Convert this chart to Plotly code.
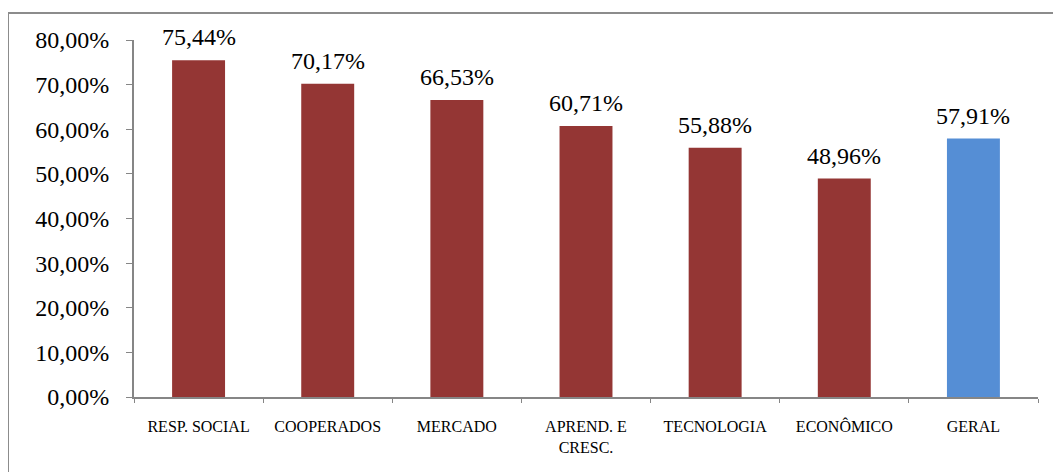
import plotly.graph_objects as go

categories = ["RESP. SOCIAL", "COOPERADOS", "MERCADO", "APREND. E<br>CRESC.",
              "TECNOLOGIA", "ECONÔMICO", "GERAL"]
values = [0.7544, 0.7017, 0.6653, 0.6071, 0.5588, 0.4896, 0.5791]
bar_colors = ["#943634"] * 6 + ["#558ED5"]

SERIF = "Liberation Serif, Times New Roman, serif"
W, H = 1061, 472
# the page puts the figure 8px in from the window corner
L, R, T, B = 126, 31, 32, 83
pw, ph = W - L - R, H - T - B

fig = go.Figure(
    go.Bar(
        x=categories,
        y=values,
        marker=dict(color=bar_colors, line=dict(width=0)),
        hoverinfo="skip",
    )
)

for cat, val in zip(categories, values):
    fig.add_annotation(
        x=cat, y=val, xref="x", yref="y",
        text=f"{val * 100:.2f}%".replace(".", ","),
        showarrow=False, yanchor="bottom", yshift=8,
        font=dict(family=SERIF, size=24, color="#000000"),
    )

# outer chart border
fig.add_shape(
    type="rect", xref="paper", yref="paper",
    x0=(0 - L) / pw, x1=(W + 2 - L) / pw,
    y0=(T + ph - (H + 2)) / ph, y1=1 + (T - 5) / ph,
    line=dict(color="#8c8c8c", width=2),
)

fig.update_layout(
    width=W, height=H,
    margin=dict(l=L, r=R, t=T, b=B),
    plot_bgcolor="white", paper_bgcolor="white",
    separators=",.",
    bargap=0.59,
    showlegend=False,
    font=dict(family=SERIF, color="#000000"),
    xaxis=dict(
        showline=True, linecolor="#868686", linewidth=2,
        ticks="outside", ticklen=4, tickcolor="#868686", tickson="boundaries",
        tickfont=dict(family=SERIF, size=16, color="#000000"),
        ticklabelstandoff=14,
        showgrid=False,
    ),
    yaxis=dict(
        range=[0, 0.8], dtick=0.1, tickformat=".2%",
        showline=True, linecolor="#868686", linewidth=2,
        ticks="outside", ticklen=6, tickcolor="#868686",
        tickfont=dict(family=SERIF, size=24, color="#000000"),
        ticklabelstandoff=12,
        showgrid=False, zeroline=False,
    ),
)

fig.write_html("out.html")
